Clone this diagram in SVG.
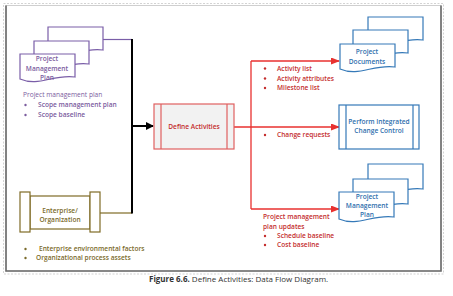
<svg xmlns="http://www.w3.org/2000/svg" width="453" height="296" viewBox="0 0 453 296">
  <style>
    text { font-family: "Open Sans", "Liberation Sans", sans-serif; font-size: 6.6px; font-weight: 600; }
    .c { text-anchor: middle; }
    .purple { fill: #7b5c9e; }
    .olive { fill: #7a6a2a; }
    .red { fill: #c42d2d; }
    .blue { fill: #2f6fad; }
    .doc-p { fill: #fff; stroke: #7a5ea8; stroke-width: 1.2; }
    .doc-b { fill: #fff; stroke: #3579b8; stroke-width: 1.2; }
    .ent { fill: #fff; stroke: #7f6b26; stroke-width: 1.2; }
    .caption { font-size: 8px; fill: #333; font-weight: 400; }
  </style>
  <defs>
    <marker id="arrow-black" markerWidth="8" markerHeight="8" refX="7" refY="4" orient="auto" markerUnits="userSpaceOnUse">
      <path d="M0,0 L8,4 L0,8 Z" fill="#000"/>
    </marker>
    <marker id="arrow-red" markerWidth="9" markerHeight="7" refX="8" refY="3.5" orient="auto" markerUnits="userSpaceOnUse">
      <path d="M0,0 L9,3.5 L0,7 Z" fill="#e8312f"/>
    </marker>
  </defs>

  <rect width="453" height="296" fill="#fff"/>

  <!-- page frame -->
  <g id="frame">
    <rect x="3.5" y="3.5" width="440" height="270.5" fill="none" stroke="#c8c8c8" stroke-width="0.8" stroke-dasharray="2,1.5"/>
    <rect x="6" y="5.5" width="435" height="265.5" fill="none" stroke="#c4c4c4" stroke-width="0.8"/>
    <path d="M6,5.5 V271 H441 V5.5" fill="none" stroke="#6a6a6a" stroke-width="1.6"/>
  </g>

  <!-- connectors -->
  <g id="connectors" fill="none">
    <path d="M103,39.5 H132" stroke="#7a5ea8" stroke-width="1.2"/>
    <path d="M100,213 H132" stroke="#7f6b26" stroke-width="1.2"/>
    <path d="M132,39 V213.5" stroke="#000" stroke-width="2"/>
    <path d="M132,126 H153" stroke="#000" stroke-width="2" marker-end="url(#arrow-black)"/>
    <path d="M234,127 H339" stroke="#e8312f" stroke-width="1.3" marker-end="url(#arrow-red)"/>
    <path d="M251,61 V209" stroke="#e8312f" stroke-width="1.3"/>
    <path d="M251,61 H339" stroke="#e8312f" stroke-width="1.3" marker-end="url(#arrow-red)"/>
    <path d="M251,209 H339" stroke="#e8312f" stroke-width="1.3" marker-end="url(#arrow-red)"/>
  </g>

  <!-- input: project management plan -->
  <g id="pmp-input">
    <path class="doc-p" d="M48,27 H103 V50 C81,47 67,60 48,52 Z"/>
    <path class="doc-p" d="M34,41 H89 V64 C67,61 53,74 34,66 Z"/>
    <path class="doc-p" d="M20,54 H75 V77 C53,74 39,87 20,79 Z"/>
    <text class="c purple" x="47" y="61">Project</text>
    <text class="c purple" x="47" y="70.5">Management</text>
    <text class="c purple" x="47" y="79.5">Plan</text>
    <text class="purple" x="23" y="97" style="font-weight:400">Project management plan</text>
    <g class="purple">
      <circle cx="25.5" cy="105" r="1.2"/>
      <circle cx="25.5" cy="115" r="1.2"/>
    </g>
    <text class="purple" x="38" y="107">Scope management plan</text>
    <text class="purple" x="38" y="117">Scope baseline</text>
  </g>

  <!-- input: enterprise / organization -->
  <g id="enterprise">
    <rect class="ent" x="30" y="196" width="60" height="33"/>
    <rect class="ent" x="20" y="192" width="10" height="40"/>
    <rect class="ent" x="90" y="192" width="10" height="40"/>
    <text class="c olive" x="60" y="213">Enterprise/</text>
    <text class="c olive" x="60" y="222">Organization</text>
    <g class="olive">
      <circle cx="25.5" cy="249" r="1.2"/>
      <circle cx="25.5" cy="258" r="1.2"/>
    </g>
    <text class="olive" x="39" y="251">Enterprise environmental factors</text>
    <text class="olive" x="36" y="260">Organizational process assets</text>
  </g>

  <!-- process -->
  <g id="define-activities">
    <rect x="154" y="104" width="80" height="45" fill="#f2f2f2" stroke="#e06060" stroke-width="1.2"/>
    <path d="M161,104 V149 M227,104 V149" stroke="#e06060" stroke-width="1.2"/>
    <text class="c red" x="194" y="129">Define Activities</text>
  </g>

  <!-- output labels -->
  <g id="output-labels">
    <g class="red">
      <circle cx="265" cy="68.5" r="1.2"/>
      <circle cx="265" cy="78.5" r="1.2"/>
      <circle cx="265" cy="88" r="1.2"/>
      <circle cx="265" cy="135" r="1.2"/>
      <circle cx="265" cy="236" r="1.2"/>
      <circle cx="265" cy="245" r="1.2"/>
    </g>
    <text class="red" x="277" y="70.5">Activity list</text>
    <text class="red" x="277" y="80.5">Activity attributes</text>
    <text class="red" x="277" y="90">Milestone list</text>
    <text class="red" x="277" y="137">Change requests</text>
    <text class="red" x="263" y="219">Project management</text>
    <text class="red" x="263" y="229">plan updates</text>
    <text class="red" x="277" y="238">Schedule baseline</text>
    <text class="red" x="277" y="247">Cost baseline</text>
  </g>

  <!-- output: project documents -->
  <g id="project-documents">
    <path class="doc-b" d="M368,17 H423 V40 C401,37 387,50 368,42 Z"/>
    <path class="doc-b" d="M353,30 H408 V53 C386,50 372,63 353,55 Z"/>
    <path class="doc-b" d="M340,44 H395 V67 C373,64 359,77 340,69 Z"/>
    <text class="c blue" x="367" y="54">Project</text>
    <text class="c blue" x="367" y="64">Documents</text>
  </g>

  <!-- output: perform integrated change control -->
  <g id="change-control">
    <rect x="339" y="105" width="80" height="44" fill="#fff" stroke="#3579b8" stroke-width="1.2"/>
    <path d="M346,105 V149 M413,105 V149" stroke="#3579b8" stroke-width="1.2"/>
    <text class="c blue" x="379" y="124">Perform Integrated</text>
    <text class="c blue" x="379" y="133">Change Control</text>
  </g>

  <!-- output: project management plan -->
  <g id="pmp-output">
    <path class="doc-b" d="M368,164 H423 V189 C401,186 387,199 368,191 Z"/>
    <path class="doc-b" d="M353,179 H408 V204 C386,201 372,214 353,206 Z"/>
    <path class="doc-b" d="M339,192 H394 V217 C372,214 358,227 339,219 Z"/>
    <text class="c blue" x="367" y="199">Project</text>
    <text class="c blue" x="367" y="208">Management</text>
    <text class="c blue" x="367" y="216.5">Plan</text>
  </g>

  <!-- caption -->
  <text class="caption" x="149" y="282"><tspan font-weight="700">Figure 6.6.</tspan> Define Activities: Data Flow Diagram.</text>
</svg>
